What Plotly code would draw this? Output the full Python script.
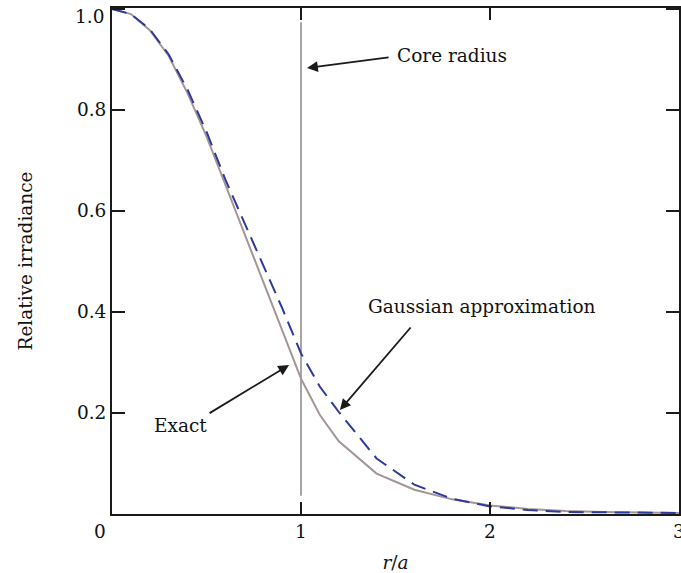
import plotly.graph_objects as go

# r/a positions
r_exact = [0.0, 0.1, 0.2, 0.3, 0.4, 0.5, 0.6, 0.7, 0.8, 0.9, 1.0, 1.1, 1.2, 1.4, 1.6, 1.8, 2.0, 2.2, 2.4, 2.6, 2.8, 3.0]
exact = [1.000, 0.990, 0.958, 0.907, 0.833, 0.748, 0.652, 0.556, 0.460, 0.362, 0.268, 0.196, 0.144, 0.080, 0.048, 0.029, 0.017, 0.010, 0.006, 0.004, 0.003, 0.002]

r_gauss = [0.0, 0.1, 0.2, 0.3, 0.4, 0.5, 0.6, 0.7, 0.8, 0.9, 1.0, 1.1, 1.2, 1.4, 1.6, 1.8, 2.0, 2.2, 2.4, 2.6, 2.8, 3.0]
gauss = [1.000, 0.990, 0.960, 0.910, 0.840, 0.757, 0.662, 0.578, 0.495, 0.408, 0.318, 0.252, 0.202, 0.110, 0.058, 0.030, 0.015, 0.008, 0.004, 0.003, 0.002, 0.002]

core_x = [1.0, 1.0]
core_y = [0.036, 0.974]

x_ticks = [1, 2, 3]
x_ticktext = ["1", "2", "3"]
y_ticks = [0.2, 0.4, 0.6, 0.8, 1.0]
y_ticktext = ["0.2", "0.4", "0.6", "0.8", ""]

FONT = "DejaVu Serif"
fsize = 18.5

fig = go.Figure()
fig.add_trace(go.Scatter(x=core_x, y=core_y, mode="lines",
                         line=dict(color="#a6a6a6", width=2), hoverinfo="skip"))
fig.add_trace(go.Scatter(x=r_exact, y=exact, mode="lines", name="Exact",
                         line=dict(color="#a39595", width=2)))
fig.add_trace(go.Scatter(x=r_gauss, y=gauss, mode="lines", name="Gaussian approximation",
                         line=dict(color="#2b3a9c", width=2, dash="15px,8px")))

arrow = dict(showarrow=True, arrowhead=2, arrowsize=1.2, arrowwidth=1.8,
             arrowcolor="#1a1a1a", axref="pixel", ayref="pixel")

fig.add_annotation(x=1.032, y=0.883, ax=83, ay=-11, text="", **arrow)
fig.add_annotation(x=1.206, y=0.206, ax=72, ay=-84, text="", **arrow)
fig.add_annotation(x=0.937, y=0.295, ax=-81, ay=49, text="", **arrow)

txt = dict(showarrow=False, font=dict(family=FONT, size=fsize, color="#111"))
fig.add_annotation(x=1.8, y=0.908, text="Core radius", **txt)
fig.add_annotation(x=1.96, y=0.41, text="Gaussian approximation", **txt)
fig.add_annotation(x=0.36, y=0.175, text="Exact", **txt)
fig.add_annotation(x=0, y=0, text="0", xshift=-12, yshift=-17, **txt)
fig.add_annotation(x=0, y=1.0, text=y_ticktext[-1] or "1.0", xanchor="right", yanchor="middle",
                   xshift=-6, yshift=-7, **txt)

fig.update_xaxes(range=[0, 3], tickvals=x_ticks, ticktext=x_ticktext,
                 ticks="inside", ticklen=12, tickwidth=1.5, tickcolor="#1a1a1a",
                 showline=True, linecolor="#1a1a1a", linewidth=1.8, mirror="ticks",
                 showgrid=False, zeroline=False, ticklabeloverflow="allow", automargin=False,
                 tickfont=dict(family=FONT, size=fsize, color="#111"),
                 title=dict(text="<i>r</i>/<i>a</i>", font=dict(family=FONT, size=fsize, color="#111"), standoff=18))
fig.update_yaxes(range=[0, 1.002], tickvals=y_ticks, ticktext=y_ticktext,
                 ticks="inside", ticklen=13, tickwidth=1.5, tickcolor="#1a1a1a",
                 showline=True, linecolor="#1a1a1a", linewidth=1.8, mirror="ticks",
                 showgrid=False, zeroline=False, ticklabeloverflow="allow", automargin=False,
                 tickfont=dict(family=FONT, size=fsize, color="#111"),
                 title=dict(text="Relative irradiance", font=dict(family=FONT, size=fsize, color="#111"), standoff=40))

fig.update_layout(width=681, height=573, showlegend=False,
                  margin=dict(l=112, r=2, t=8, b=59),
                  plot_bgcolor="white", paper_bgcolor="white")

fig.write_html("out.html")
